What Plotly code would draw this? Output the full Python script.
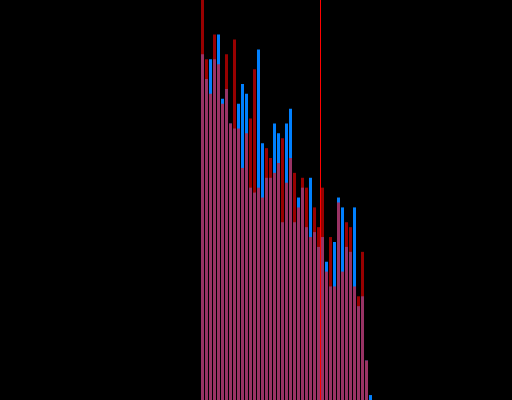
import plotly.graph_objects as go

BG = "#000000"
RED = "#ff0000"
BLUE = "#0080ff"

# histogram bin index and counts per bin
bins = list(range(43))
blue_counts = [
    70, 65, 69, 69, 74, 61, 63, 56, 55, 60, 64, 62, 43, 42, 71,
    52, 45, 45, 56, 54, 36, 56, 59, 36, 41, 43, 35, 45, 34, 31,
    33, 28, 23, 32, 41, 39, 31, 30, 39, 19, 21, 8, 1,
]
red_counts = [
    88, 69, 62, 74, 68, 60, 70, 56, 73, 55, 47, 54, 57, 67, 43,
    41, 51, 49, 46, 48, 53, 44, 49, 46, 39, 45, 43, 33, 39, 35,
    43, 26, 33, 23, 40, 26, 36, 35, 23, 21, 30, 8, 0,
]
marker_x = 29.5
x_range = [-50.625, 77.375]
y_range = [0, 81]

fig = go.Figure()
fig.add_trace(
    go.Bar(
        x=bins,
        y=blue_counts,
        marker={"color": BLUE, "line": {"width": 0}},
        name="blue",
    )
)
fig.add_trace(
    go.Bar(
        x=bins,
        y=red_counts,
        marker={"color": RED, "line": {"width": 0}},
        opacity=0.6,
        name="red",
    )
)
fig.add_shape(
    type="line",
    x0=marker_x,
    x1=marker_x,
    y0=0,
    y1=1,
    xref="x",
    yref="paper",
    line={"color": RED, "width": 1},
)

fig.update_layout(
    width=512,
    height=400,
    margin={"l": 0, "r": 0, "t": 0, "b": 0},
    paper_bgcolor=BG,
    plot_bgcolor=BG,
    barmode="overlay",
    bargap=0.25,
    showlegend=False,
    xaxis={"range": x_range, "visible": False},
    yaxis={"range": y_range, "visible": False},
)

# drop the page margin so the black figure fills the window
fig.write_html(
    "out.html",
    config={"displayModeBar": False},
    post_script="document.body.style.margin='0';document.body.style.background='#000';",
)
